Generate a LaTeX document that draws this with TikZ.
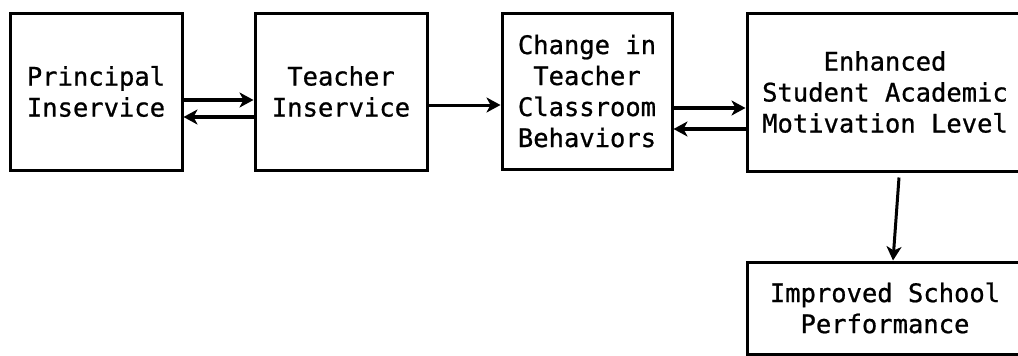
\documentclass[tikz,border=0pt]{standalone}
\usepackage{fontspec}
\setmainfont[FakeBold=0.8]{DejaVu Sans Mono}
\usetikzlibrary{arrows.meta,calc}
\begin{document}
\begin{tikzpicture}[x=1pt,y=-1pt,
  box/.style={draw,line width=3pt,rectangle,inner sep=0pt,align=center,
    font=\fontsize{25.5}{31}\selectfont},
  tip/.style={-{Stealth[length=14pt,width=15pt,inset=4pt]}},
  arr/.style={line width=3.6pt,tip}]
\clip (0,0) rectangle (1018,356);
\fill[white] (0,0) rectangle (1018,356);
\node[box,minimum width=172pt,minimum height=157pt] (b1) at (96,91.5) {Principal\\Inservice};
\node[box,minimum width=172pt,minimum height=157pt] (b2) at (341,91.5) {Teacher\\Inservice};
\node[box,minimum width=170pt,minimum height=156pt] (b3) at (587,91) {Change in\\Teacher\\Classroom\\Behaviors};
\node[box,minimum width=276pt,minimum height=158pt] (b4) at (885,92) {Enhanced\\Student Academic\\Motivation Level};
\node[box,minimum width=276pt,minimum height=92pt] (b5) at (885,308) {Improved School\\Performance};
\draw[arr] ($(b1.east)+(0,8.5)$) -- ($(b2.west)+(0,8.5)$);
\draw[arr] ($(b2.west)+(0,25.5)$) -- ($(b1.east)+(0,25.5)$);
\draw[arr,line width=3pt] ($(b2.east)+(0,13.5)$) -- ($(b3.west)+(0,14)$);
\draw[arr] ($(b3.east)+(0,17)$) -- ($(b4.west)+(0,16)$);
\draw[arr] ($(b4.west)+(0,37)$) -- ($(b3.east)+(0,38)$);
\draw[arr,line width=3pt] ($(b4.south)+(14,5)$) -- ($(b5.north)+(8,0)$);
\end{tikzpicture}
\end{document}
